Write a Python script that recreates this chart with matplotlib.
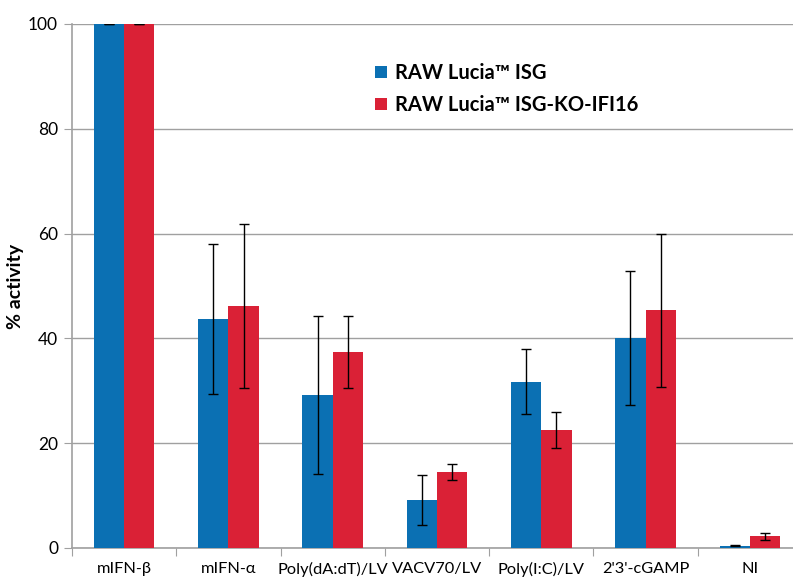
import matplotlib
matplotlib.use("Agg")
import matplotlib.pyplot as plt
import numpy as np

categories = ["mIFN-\u03b2", "mIFN-\u03b1", "Poly(dA:dT)/LV", "VACV70/LV", "Poly(I:C)/LV", "2'3'-cGAMP", "NI"]
series_names = ["RAW Lucia\u2122 ISG", "RAW Lucia\u2122 ISG-KO-IFI16"]
wt_vals = [100, 43.7, 29.2, 9.2, 31.7, 40.1, 0.4]
wt_err = [0, 14.3, 15.1, 4.8, 6.2, 12.8, 0.1]
ko_vals = [100, 46.2, 37.4, 14.5, 22.5, 45.4, 2.2]
ko_err = [0, 15.6, 6.9, 1.5, 3.5, 14.6, 0.7]
yticks = [0, 20, 40, 60, 80, 100]

blue = "#0b70b3"
red = "#da2136"

plt.rcParams['font.family'] = ['Lato', 'DejaVu Sans']

fig = plt.figure(figsize=(7.93, 5.80), dpi=100)
ax = fig.add_axes([72/793, 32/580, (802-72)/793, 524/580])

x = np.arange(len(categories))
w = 0.29
ax.bar(x - w/2, wt_vals, w, color=blue, yerr=wt_err, capsize=3.5,
       error_kw=dict(elinewidth=1, ecolor='black', capthick=1), zorder=3, label=series_names[0])
ax.bar(x + w/2, ko_vals, w, color=red, yerr=ko_err, capsize=3.5,
       error_kw=dict(elinewidth=1, ecolor='black', capthick=1), zorder=3, label=series_names[1])

ax.set_xlim(-0.5, len(categories) - 0.5)
ax.set_ylim(0, 100)
ax.set_yticks(yticks)
ax.set_yticklabels([str(v) for v in yticks], fontsize=12.5)
ax.yaxis.grid(True, color='#a0a0a0', linewidth=1, zorder=0)
ax.set_axisbelow(True)

ax.set_xticks(np.arange(len(categories) + 1) - 0.5, minor=False)
ax.set_xticklabels([])
ax.set_xticks(x, minor=True)
ax.set_xticklabels(categories, minor=True, fontsize=11.8)
ax.tick_params(axis='x', which='minor', length=0, pad=10)
ax.tick_params(axis='x', which='major', length=6, color='#a0a0a0', direction='out')
ax.tick_params(axis='y', length=6, color='#a0a0a0', direction='out', pad=4)

for s in ['top', 'right']:
    ax.spines[s].set_visible(False)
for s in ['left', 'bottom']:
    ax.spines[s].set_color('#a0a0a0')
    ax.spines[s].set_linewidth(1.2)

ax.set_ylabel("% activity", fontsize=14, fontweight='bold', labelpad=3)

leg = ax.legend(loc='upper left', bbox_to_anchor=(0.39, 0.96), frameon=False,
                prop=dict(size=14.5, weight='bold'), handlelength=0.6, handleheight=0.6,
                handletextpad=0.4, labelspacing=0.6)

fig.savefig("out.png", dpi=100)
